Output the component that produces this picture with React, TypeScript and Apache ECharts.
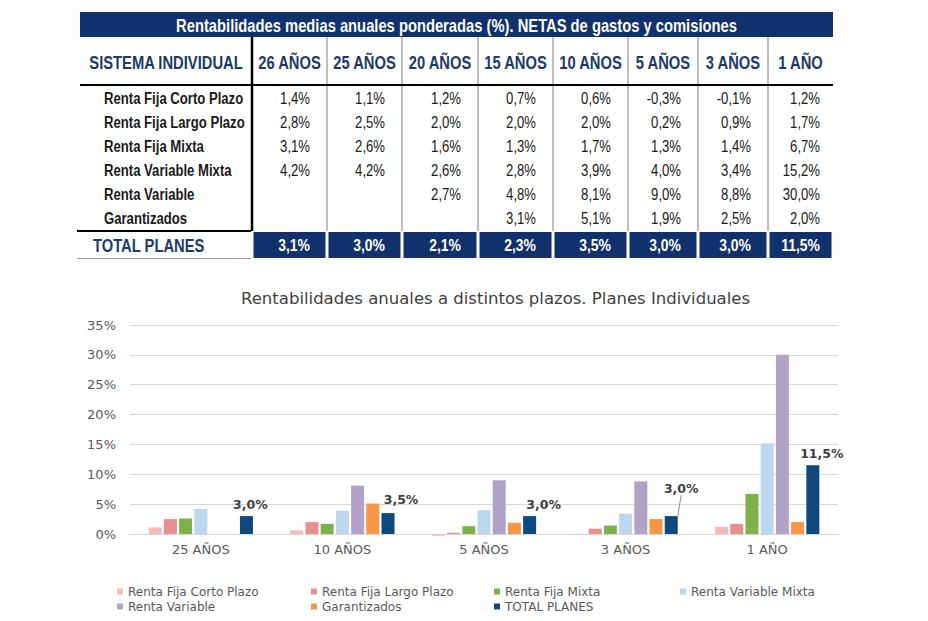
import React, { useEffect, useRef } from 'react';
import * as echarts from 'echarts';

// ---------- DATA ----------
const tableTitle = 'Rentabilidades medias anuales ponderadas (%). NETAS de gastos y comisiones';
const firstHeader = 'SISTEMA INDIVIDUAL';
const headerCols = ['26 AÑOS', '25 AÑOS', '20 AÑOS', '15 AÑOS', '10 AÑOS', '5 AÑOS', '3 AÑOS', '1 AÑO'];
const seriesNames = [
  'Renta Fija Corto Plazo',
  'Renta Fija Largo Plazo',
  'Renta Fija Mixta',
  'Renta Variable Mixta',
  'Renta Variable',
  'Garantizados',
];
const totalName = 'TOTAL PLANES';

const rentaFijaCortoPlazo = [1.4, 1.1, 1.2, 0.7, 0.6, -0.3, -0.1, 1.2];
const rentaFijaLargoPlazo = [2.8, 2.5, 2.0, 2.0, 2.0, 0.2, 0.9, 1.7];
const rentaFijaMixta = [3.1, 2.6, 1.6, 1.3, 1.7, 1.3, 1.4, 6.7];
const rentaVariableMixta = [4.2, 4.2, 2.6, 2.8, 3.9, 4.0, 3.4, 15.2];
const rentaVariable = [null, null, 2.7, 4.8, 8.1, 9.0, 8.8, 30.0];
const garantizados = [null, null, null, 3.1, 5.1, 1.9, 2.5, 2.0];
const totalPlanes = [3.1, 3.0, 2.1, 2.3, 3.5, 3.0, 3.0, 11.5];

const chartTitle = 'Rentabilidades anuales a distintos plazos. Planes Individuales';
const chartColumnIndex = [1, 4, 5, 6, 7]; // 25, 10, 5, 3, 1 AÑOS
const yMin = 0;
const yMax = 35;
const yStep = 5;

// ---------- STYLE ----------
const seriesColors = ['#F4BBBB', '#E8908F', '#7DB24B', '#BDD7EE', '#B3A2C7', '#F79646'];
const totalColor = '#0D4A7B';
const navy = '#10316B';
const headNavy = '#1B3A6B';
const chartFont = '"DejaVu Sans", Verdana, sans-serif';
const tableFont = '"Liberation Sans", Arial, sans-serif';

const fmt = (v: number | null) =>
  v === null || v === undefined ? '' : v.toFixed(1).replace('.', ',') + '%';

const tableRows = [
  rentaFijaCortoPlazo,
  rentaFijaLargoPlazo,
  rentaFijaMixta,
  rentaVariableMixta,
  rentaVariable,
  garantizados,
];

function txt(
  x: number,
  y: number,
  text: string,
  size: number,
  weight: string,
  fill: string,
  align: string
) {
  return {
    type: 'text',
    x,
    y,
    scaleX: 0.82,
    silent: true,
    style: {
      text,
      fill,
      font: `${weight} ${size}px ${tableFont}`,
      align,
      verticalAlign: 'middle',
    },
  };
}

function buildTable() {
  const els: any[] = [];
  const left = 80;
  const right = 833;
  const colEdges = [252, 327, 402, 478, 553, 628, 698, 768, 833];
  const rowY = [98.5, 122.5, 146.5, 170.5, 194.5, 218.5];
  const rightAnchor = (i: number) => colEdges[i + 1] - (i === headerCols.length - 1 ? 13 : 17);

  // title bar
  els.push({ type: 'rect', silent: true, shape: { x: left, y: 12, width: right - left, height: 25 }, style: { fill: navy } });
  els.push(txt((left + right) / 2, 25, tableTitle, 18, 'bold', '#FFFFFF', 'center'));

  // header
  els.push(txt((left + colEdges[0]) / 2, 62, firstHeader, 18, 'bold', headNavy, 'center'));
  headerCols.forEach((h, i) => {
    els.push(txt((colEdges[i] + colEdges[i + 1]) / 2, 62, h, 18, 'bold', headNavy, 'center'));
  });

  // vertical lines
  for (let i = 1; i < colEdges.length - 1; i++) {
    els.push({ type: 'line', silent: true, shape: { x1: colEdges[i], y1: 37, x2: colEdges[i], y2: 231 }, style: { stroke: '#7F7F7F', lineWidth: 1 } });
  }
  els.push({ type: 'line', silent: true, shape: { x1: colEdges[0], y1: 37, x2: colEdges[0], y2: 231 }, style: { stroke: '#000000', lineWidth: 2.5 } });
  // header underline
  els.push({ type: 'line', silent: true, shape: { x1: left, y1: 85, x2: right, y2: 85 }, style: { stroke: '#000000', lineWidth: 2 } });

  // body
  seriesNames.forEach((name, r) => {
    els.push(txt(104, rowY[r], name, 16, 'bold', '#1A1A1A', 'left'));
    tableRows[r].forEach((v, c) => {
      const s = fmt(v as number | null);
      if (s) els.push(txt(rightAnchor(c), rowY[r], s, 16, 'normal', '#1A1A1A', 'right'));
    });
  });

  // total row
  els.push({ type: 'line', silent: true, shape: { x1: 77, y1: 231, x2: 251, y2: 231 }, style: { stroke: '#000000', lineWidth: 2 } });
  els.push({ type: 'line', silent: true, shape: { x1: 77, y1: 258.5, x2: 251, y2: 258.5 }, style: { stroke: '#9A9A9A', lineWidth: 1 } });
  els.push(txt(93, 245, totalName, 18, 'bold', headNavy, 'left'));
  totalPlanes.forEach((v, c) => {
    els.push({
      type: 'rect',
      silent: true,
      shape: { x: colEdges[c] + 1.5, y: 232, width: colEdges[c + 1] - colEdges[c] - 3, height: 26 },
      style: { fill: navy },
    });
    els.push(txt(rightAnchor(c), 245, fmt(v), 17, 'bold', '#FFFFFF', 'right'));
  });
  return els;
}

export default function App() {
  const ref = useRef<HTMLDivElement>(null);

  useEffect(() => {
    if (!ref.current) return;
    const chart = echarts.init(ref.current, null, { renderer: 'svg' });

    const categories = chartColumnIndex.map((i) => headerCols[i]);
    const pick = (arr: (number | null)[]) => chartColumnIndex.map((i) => arr[i]);
    const totalOffsets = [
      [4, 0],
      [13, -2],
      [14, 0],
      [10, -16],
      [9, 0],
    ];

    const barCommon = {
      type: 'bar',
      barWidth: 13,
      barGap: '17%',
      clip: false,
    };

    const series: any[] = tableRows.map((arr, k) => ({
      ...barCommon,
      name: seriesNames[k],
      itemStyle: { color: seriesColors[k] },
      data: pick(arr as (number | null)[]),
    }));
    series.push({
      ...barCommon,
      name: totalName,
      itemStyle: { color: totalColor },
      data: pick(totalPlanes).map((v, i) =>
        i === 3 ? { value: v, labelLine: { show: true } } : { value: v }
      ),
      label: {
        show: true,
        position: 'top',
        distance: 5,
        formatter: (p: any) => fmt(p.value),
        fontFamily: chartFont,
        fontSize: 12.5,
        fontWeight: 'bold',
        color: '#404040',
      },
      labelLine: { show: false, lineStyle: { color: '#8C8C8C', width: 1 } },
      labelLayout: (p: any) => ({ dx: totalOffsets[p.dataIndex][0], dy: totalOffsets[p.dataIndex][1] }),
    });

    const legendCommon = {
      orient: 'vertical',
      top: 580,
      icon: 'rect',
      itemWidth: 6,
      itemHeight: 6,
      itemGap: 2,
      selectedMode: false,
      textStyle: { fontFamily: chartFont, fontSize: 12, color: '#595959', lineHeight: 13 },
    };

    chart.setOption({
      animation: false,
      backgroundColor: '#FFFFFF',
      title: {
        text: chartTitle,
        left: 236,
        top: 285,
        textStyle: { fontFamily: chartFont, fontSize: 16.5, fontWeight: 'normal', color: '#404040' },
      },
      legend: [
        { ...legendCommon, left: 112, data: [seriesNames[0], seriesNames[4]] },
        { ...legendCommon, left: 306, data: [seriesNames[1], seriesNames[5]] },
        { ...legendCommon, left: 489, data: [seriesNames[2], totalName] },
        { ...legendCommon, left: 675, data: [seriesNames[3]] },
      ],
      grid: { left: 130, right: 90, top: 325, bottom: 87, containLabel: false },
      xAxis: {
        type: 'category',
        data: categories,
        axisLine: { show: true, lineStyle: { color: '#D9D9D9', width: 1 } },
        axisTick: { show: false },
        axisLabel: { fontFamily: chartFont, fontSize: 13, color: '#595959', margin: 9 },
      },
      yAxis: {
        type: 'value',
        min: yMin,
        max: yMax,
        interval: yStep,
        axisLine: { show: false },
        axisTick: { show: false },
        splitLine: { lineStyle: { color: '#D9D9D9', width: 1 } },
        axisLabel: {
          fontFamily: chartFont,
          fontSize: 13,
          color: '#595959',
          margin: 14,
          formatter: (v: number) => v + '%',
        },
      },
      graphic: buildTable(),
      series,
    });

    return () => chart.dispose();
  }, []);

  return (
    <div
      ref={ref}
      style={{ position: 'absolute', left: 0, top: 0, width: 928, height: 621, background: '#fff' }}
    />
  );
}
